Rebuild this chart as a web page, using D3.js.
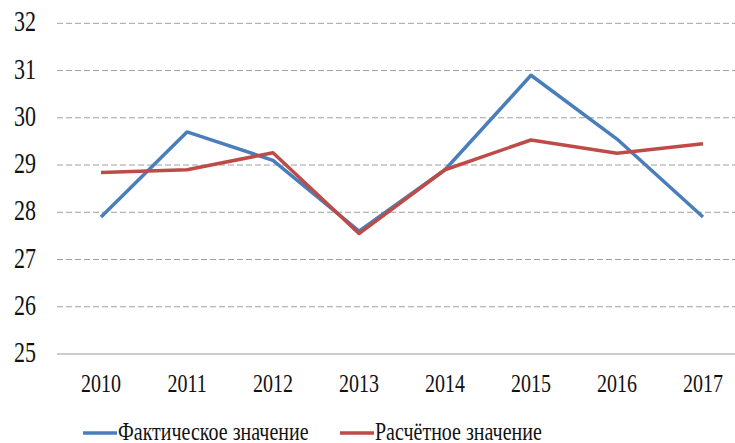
<!DOCTYPE html>
<html>
<head>
<meta charset="utf-8">
<script src="https://cdn.jsdelivr.net/npm/d3@7"></script>
<style>
body{margin:0;background:#fff;font-family:"Liberation Serif",serif;}
svg text{font-family:"Liberation Serif",serif;}
</style>
</head>
<body>
<svg id="chart" width="735" height="443"></svg>
<script>
var years = ["2010","2011","2012","2013","2014","2015","2016","2017"];
var actual = [27.9, 29.7, 29.1, 27.6, 28.9, 30.9, 29.55, 27.9];
var estimated = [28.84, 28.9, 29.26, 27.55, 28.9, 29.53, 29.25, 29.45];
var yTicks = [25,26,27,28,29,30,31,32];
var seriesNames = ["Фактическое значение","Расчётное значение"];
var colors = ["#4a7ebb","#be4b48"];

var svg = d3.select("#chart");

var x = d3.scalePoint().domain(years).range([101,703]);
var y = d3.scaleLinear().domain([25,32]).range([354,23.3]);

// text stretched vertically like the source picture
function stretched(g,px,py,anchor,size,txt){
	return g.append("text")
		.attr("transform","translate("+px+","+py+") scale(1,1.3)")
		.attr("text-anchor",anchor)
		.attr("font-family","Liberation Serif")
		.attr("font-size",size)
		.attr("fill","#111")
		.text(txt);
}

function draw(){
	svg.selectAll("*").remove();

	// grid lines
	svg.append("g").selectAll("line").data(yTicks).enter().append("line")
		.attr("x1",57).attr("x2",735)
		.attr("y1",function(d){return y(d)}).attr("y2",function(d){return y(d)})
		.attr("stroke",function(d){return d==25?"#999":"#a0a0a0"})
		.attr("stroke-width",1)
		.attr("stroke-dasharray",function(d){return d==25?null:"6,3"});

	// y labels
	var yg = svg.append("g");
	yTicks.forEach(function(d){ stretched(yg,36,y(d)+8,"end",22,d); });

	// x labels
	var xg = svg.append("g");
	years.forEach(function(d){ stretched(xg,x(d),392,"middle",20,d); });

	var line = d3.line()
		.x(function(d,i){return x(years[i])})
		.y(function(d){return y(d)});

	[actual,estimated].forEach(function(s,k){
		svg.append("path").datum(s)
			.attr("d",line)
			.attr("fill","none")
			.attr("stroke",colors[k])
			.attr("stroke-width",3.5)
			.attr("stroke-linejoin","round");
	});

	// legend
	var legendX = [83,340];
	var lg = svg.append("g");
	seriesNames.forEach(function(d,i){
		lg.append("line").attr("x1",legendX[i]).attr("x2",legendX[i]+34)
			.attr("y1",433).attr("y2",433)
			.attr("stroke",colors[i]).attr("stroke-width",3.5);
		stretched(lg,legendX[i]+35,440,"start",20,d);
	});
}

draw();
if(document.fonts && document.fonts.load){
	document.fonts.load('20px "Liberation Serif"','2010 Фактическое').then(draw);
}
</script>
</body>
</html>
